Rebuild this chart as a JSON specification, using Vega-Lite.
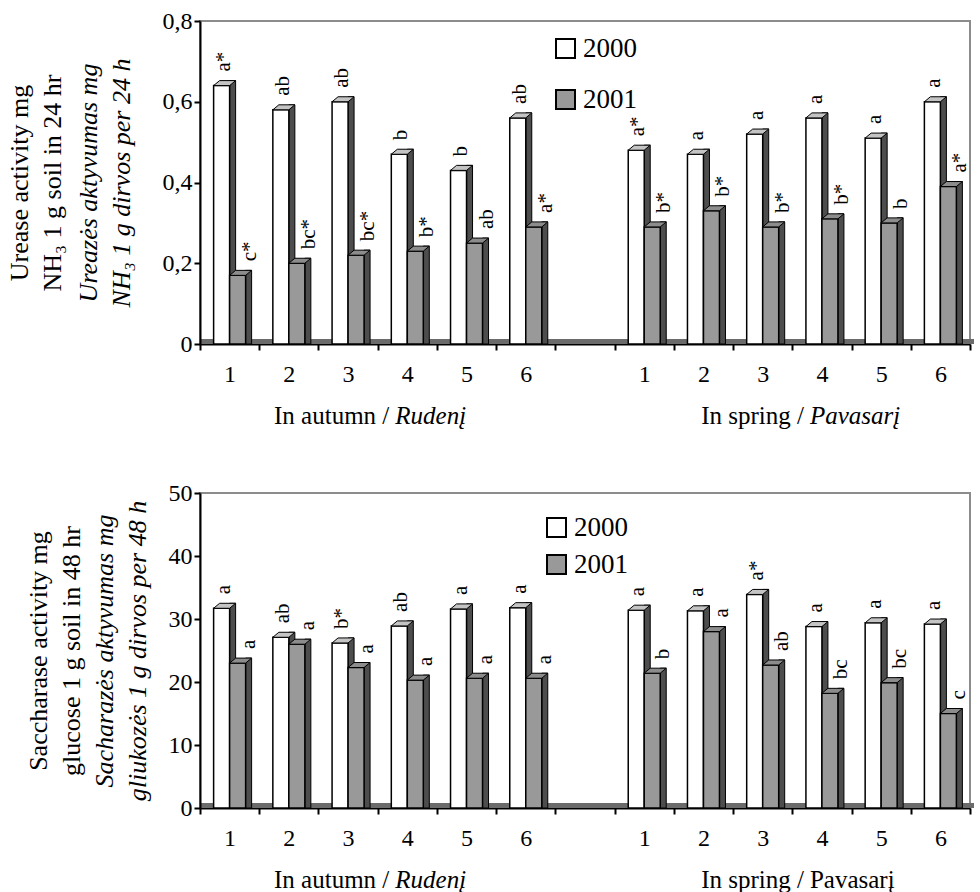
{
  "$schema": "https://vega.github.io/schema/vega-lite/v6.json",
  "padding": {"left": 5, "top": 8, "right": 2, "bottom": 5},
  "spacing": 50,
  "config": {
    "font": "Liberation Serif",
    "view": {"stroke": "#8c8c8c", "strokeWidth": 2},
    "axis": {"labelFont": "Liberation Serif", "titleFont": "Liberation Serif", "labelColor": "black", "titleColor": "black", "grid": false, "labelFontSize": 24},
    "axisX": {"title": null, "labelExpr": "isValid(datum.value) && datum.value != 'G' ? substring(datum.value, 1) : ''", "tickBand": "extent", "tickSize": 6, "tickWidth": 2, "tickColor": "black", "domainColor": "black", "domainWidth": 2, "labelFontSize": 24, "labelPadding": 12, "labelAngle": 0},
    "legend": {"labelFont": "Liberation Serif"},
    "text": {"font": "Liberation Serif"}
  },
  "resolve": {"scale": {"color": "independent"}, "legend": {"color": "independent"}},
  "datasets": {
    "urease": [
      {"slot": "A1", "year": "2000", "value": 0.64, "sig": "a*"},
      {"slot": "A1", "year": "2001", "value": 0.17, "sig": "c*"},
      {"slot": "A2", "year": "2000", "value": 0.58, "sig": "ab"},
      {"slot": "A2", "year": "2001", "value": 0.20, "sig": "bc*"},
      {"slot": "A3", "year": "2000", "value": 0.60, "sig": "ab"},
      {"slot": "A3", "year": "2001", "value": 0.22, "sig": "bc*"},
      {"slot": "A4", "year": "2000", "value": 0.47, "sig": "b"},
      {"slot": "A4", "year": "2001", "value": 0.23, "sig": "b*"},
      {"slot": "A5", "year": "2000", "value": 0.43, "sig": "b"},
      {"slot": "A5", "year": "2001", "value": 0.25, "sig": "ab"},
      {"slot": "A6", "year": "2000", "value": 0.56, "sig": "ab"},
      {"slot": "A6", "year": "2001", "value": 0.29, "sig": "a*"},
      {"slot": "S1", "year": "2000", "value": 0.48, "sig": "a*"},
      {"slot": "S1", "year": "2001", "value": 0.29, "sig": "b*"},
      {"slot": "S2", "year": "2000", "value": 0.47, "sig": "a"},
      {"slot": "S2", "year": "2001", "value": 0.33, "sig": "b*"},
      {"slot": "S3", "year": "2000", "value": 0.52, "sig": "a"},
      {"slot": "S3", "year": "2001", "value": 0.29, "sig": "b*"},
      {"slot": "S4", "year": "2000", "value": 0.56, "sig": "a"},
      {"slot": "S4", "year": "2001", "value": 0.31, "sig": "b*"},
      {"slot": "S5", "year": "2000", "value": 0.51, "sig": "a"},
      {"slot": "S5", "year": "2001", "value": 0.30, "sig": "b"},
      {"slot": "S6", "year": "2000", "value": 0.60, "sig": "a"},
      {"slot": "S6", "year": "2001", "value": 0.39, "sig": "a*"}
    ],
    "sacch": [
      {"slot": "A1", "year": "2000", "value": 31.7, "sig": "a"},
      {"slot": "A1", "year": "2001", "value": 23.0, "sig": "a"},
      {"slot": "A2", "year": "2000", "value": 27.1, "sig": "ab"},
      {"slot": "A2", "year": "2001", "value": 26.0, "sig": "a"},
      {"slot": "A3", "year": "2000", "value": 26.2, "sig": "b*"},
      {"slot": "A3", "year": "2001", "value": 22.3, "sig": "a"},
      {"slot": "A4", "year": "2000", "value": 28.9, "sig": "ab"},
      {"slot": "A4", "year": "2001", "value": 20.3, "sig": "a"},
      {"slot": "A5", "year": "2000", "value": 31.6, "sig": "a"},
      {"slot": "A5", "year": "2001", "value": 20.6, "sig": "a"},
      {"slot": "A6", "year": "2000", "value": 31.8, "sig": "a"},
      {"slot": "A6", "year": "2001", "value": 20.6, "sig": "a"},
      {"slot": "S1", "year": "2000", "value": 31.4, "sig": "a"},
      {"slot": "S1", "year": "2001", "value": 21.4, "sig": "b"},
      {"slot": "S2", "year": "2000", "value": 31.3, "sig": "a"},
      {"slot": "S2", "year": "2001", "value": 28.0, "sig": "a"},
      {"slot": "S3", "year": "2000", "value": 33.9, "sig": "a*"},
      {"slot": "S3", "year": "2001", "value": 22.7, "sig": "ab"},
      {"slot": "S4", "year": "2000", "value": 28.8, "sig": "a"},
      {"slot": "S4", "year": "2001", "value": 18.2, "sig": "bc"},
      {"slot": "S5", "year": "2000", "value": 29.4, "sig": "a"},
      {"slot": "S5", "year": "2001", "value": 19.9, "sig": "bc"},
      {"slot": "S6", "year": "2000", "value": 29.2, "sig": "a"},
      {"slot": "S6", "year": "2001", "value": 15.0, "sig": "c"}
    ],
    "groups": [
      {"slot": "A4", "group": "autumn", "part1": "In autumn /", "part2": "Rudenį"},
      {"slot": "S4", "group": "spring", "part1": "In spring /", "part2": "Pavasarį"}
    ]
  },
  "vconcat": [
    {
      "width": 770,
      "height": 323,
      "data": {"name": "urease"},
      "resolve": {"scale": {"y": "shared"}, "axis": {"y": "independent"}},
      "layer": [
        {
          "data": {"values": [{}]},
          "mark": {"type": "rule", "color": "#6b6b6b", "strokeWidth": 5, "yOffset": -2.5, "xOffset": 4},
          "encoding": {"y": {"datum": 0, "type": "quantitative", "scale": {"domain": [0, 0.8], "nice": false}, "axis": null}}
        },
        {
          "transform": [{"filter": "datum.year == '2000'"}],
          "mark": {"type": "bar", "width": 6, "xOffset": 3, "yOffset": -5, "y2Offset": -5, "fill": "#4d4d4d", "stroke": "black", "strokeWidth": 1},
          "encoding": {
            "x": {"field": "slot", "type": "nominal", "scale": {"type": "band", "domain": ["A1","A2","A3","A4","A5","A6","G","S1","S2","S3","S4","S5","S6"], "paddingInner": 0, "paddingOuter": 0}},
            "y": {"field": "value", "type": "quantitative", "stack": null, "scale": {"domain": [0, 0.8], "nice": false}, "axis": null}
          }
        },
        {
          "transform": [{"filter": "datum.year == '2000'"}],
          "mark": {"type": "bar", "width": 16, "xOffset": -8, "stroke": "black", "strokeWidth": 1.5, "opacity": 1},
          "encoding": {
            "x": {"field": "slot", "type": "nominal", "scale": {"type": "band", "domain": ["A1","A2","A3","A4","A5","A6","G","S1","S2","S3","S4","S5","S6"], "paddingInner": 0, "paddingOuter": 0}},
            "y": {"field": "value", "type": "quantitative", "stack": null, "scale": {"domain": [0, 0.8], "nice": false},
              "axis": {"orient": "left", "values": [0, 0.2, 0.4, 0.6, 0.8], "labelExpr": "datum.value == 0 ? '0' : replace(format(datum.value, '.1f'), '.', ',')", "title": ["Ureazės aktyvumas mg", "NH₃ 1 g dirvos per 24 h"], "titleFontStyle": "italic", "titleFontWeight": "normal", "titleFontSize": 26, "titleLineHeight": 33, "titlePadding": 28, "tickSize": 6, "tickWidth": 2, "tickColor": "black", "domainColor": "black", "domainWidth": 2, "labelFontSize": 24, "labelPadding": 2, "zindex": 1}},
            "color": {"field": "year", "type": "nominal", "scale": {"domain": ["2000", "2001"], "range": ["#ffffff", "#999999"]},
              "legend": {"orient": "none", "legendX": 352, "legendY": 14, "title": null, "symbolType": "square", "symbolSize": 361, "symbolStrokeColor": "black", "symbolStrokeWidth": 2, "symbolOpacity": 1, "labelFontSize": 27, "labelColor": "black", "labelOffset": 4, "rowPadding": 23, "padding": 0}}
          }
        },
        {
          "transform": [{"filter": "datum.year == '2000'"}],
          "mark": {"type": "point", "shape": "M -8 0 L 8 0 L 14 -5 L -2 -5 Z", "size": 4, "filled": true, "fill": "#c4c4c4", "stroke": "black", "strokeWidth": 1, "opacity": 1, "xOffset": -8},
          "encoding": {
            "x": {"field": "slot", "type": "nominal", "scale": {"type": "band", "domain": ["A1","A2","A3","A4","A5","A6","G","S1","S2","S3","S4","S5","S6"], "paddingInner": 0, "paddingOuter": 0}},
            "y": {"field": "value", "type": "quantitative", "scale": {"domain": [0, 0.8], "nice": false}, "axis": null}
          }
        },
        {
          "transform": [{"filter": "datum.year == '2001'"}],
          "mark": {"type": "bar", "width": 6, "xOffset": 19, "yOffset": -5, "y2Offset": -5, "fill": "#4d4d4d", "stroke": "black", "strokeWidth": 1},
          "encoding": {
            "x": {"field": "slot", "type": "nominal", "scale": {"type": "band", "domain": ["A1","A2","A3","A4","A5","A6","G","S1","S2","S3","S4","S5","S6"], "paddingInner": 0, "paddingOuter": 0}},
            "y": {"field": "value", "type": "quantitative", "stack": null, "scale": {"domain": [0, 0.8], "nice": false}, "axis": null}
          }
        },
        {
          "transform": [{"filter": "datum.year == '2001'"}],
          "mark": {"type": "bar", "width": 16, "xOffset": 8, "stroke": "black", "strokeWidth": 1.5, "opacity": 1},
          "encoding": {
            "x": {"field": "slot", "type": "nominal", "scale": {"type": "band", "domain": ["A1","A2","A3","A4","A5","A6","G","S1","S2","S3","S4","S5","S6"], "paddingInner": 0, "paddingOuter": 0}},
            "y": {"field": "value", "type": "quantitative", "stack": null, "scale": {"domain": [0, 0.8], "nice": false},
              "axis": {"orient": "left", "labels": false, "ticks": false, "domain": false, "title": ["Urease activity mg", "NH₃ 1 g soil in 24 hr"], "titleFontWeight": "normal", "titleFontSize": 26, "titleLineHeight": 33, "titlePadding": 135}},
            "color": {"field": "year", "type": "nominal", "scale": {"domain": ["2000", "2001"], "range": ["#ffffff", "#999999"]}, "legend": null}
          }
        },
        {
          "transform": [{"filter": "datum.year == '2001'"}],
          "mark": {"type": "point", "shape": "M -8 0 L 8 0 L 14 -5 L -2 -5 Z", "size": 4, "filled": true, "fill": "#8c8c8c", "stroke": "black", "strokeWidth": 1, "opacity": 1, "xOffset": 8},
          "encoding": {
            "x": {"field": "slot", "type": "nominal", "scale": {"type": "band", "domain": ["A1","A2","A3","A4","A5","A6","G","S1","S2","S3","S4","S5","S6"], "paddingInner": 0, "paddingOuter": 0}},
            "y": {"field": "value", "type": "quantitative", "scale": {"domain": [0, 0.8], "nice": false}, "axis": null}
          }
        },
        {
          "transform": [{"filter": "datum.year == '2000'"}],
          "mark": {"type": "text", "angle": 270, "align": "left", "baseline": "middle", "fontSize": 21, "xOffset": -6, "yOffset": -14, "color": "black"},
          "encoding": {
            "x": {"field": "slot", "type": "nominal", "scale": {"type": "band", "domain": ["A1","A2","A3","A4","A5","A6","G","S1","S2","S3","S4","S5","S6"], "paddingInner": 0, "paddingOuter": 0}},
            "y": {"field": "value", "type": "quantitative", "scale": {"domain": [0, 0.8], "nice": false}, "axis": null},
            "text": {"field": "sig"}
          }
        },
        {
          "transform": [{"filter": "datum.year == '2001'"}],
          "mark": {"type": "text", "angle": 270, "align": "left", "baseline": "middle", "fontSize": 21, "xOffset": 20, "yOffset": -14, "color": "black"},
          "encoding": {
            "x": {"field": "slot", "type": "nominal", "scale": {"type": "band", "domain": ["A1","A2","A3","A4","A5","A6","G","S1","S2","S3","S4","S5","S6"], "paddingInner": 0, "paddingOuter": 0}},
            "y": {"field": "value", "type": "quantitative", "scale": {"domain": [0, 0.8], "nice": false}, "axis": null},
            "text": {"field": "sig"}
          }
        },
        {
          "data": {"name": "groups"},
          "mark": {"type": "text", "align": "right", "baseline": "middle", "fontSize": 25, "xOffset": -18, "yOffset": 72, "color": "black"},
          "encoding": {
            "x": {"field": "slot", "type": "nominal", "scale": {"type": "band", "domain": ["A1","A2","A3","A4","A5","A6","G","S1","S2","S3","S4","S5","S6"], "paddingInner": 0, "paddingOuter": 0}},
            "y": {"datum": 0, "type": "quantitative", "scale": {"domain": [0, 0.8], "nice": false}, "axis": null},
            "text": {"field": "part1"}
          }
        },
        {
          "data": {"name": "groups"},
          "mark": {"type": "text", "align": "left", "baseline": "middle", "fontSize": 25, "fontStyle": "italic", "xOffset": -12, "yOffset": 72, "color": "black"},
          "encoding": {
            "x": {"field": "slot", "type": "nominal", "scale": {"type": "band", "domain": ["A1","A2","A3","A4","A5","A6","G","S1","S2","S3","S4","S5","S6"], "paddingInner": 0, "paddingOuter": 0}},
            "y": {"datum": 0, "type": "quantitative", "scale": {"domain": [0, 0.8], "nice": false}, "axis": null},
            "text": {"field": "part2"}
          }
        }
      ]
    },
    {
      "width": 770,
      "height": 315,
      "data": {"name": "sacch"},
      "resolve": {"scale": {"y": "shared"}, "axis": {"y": "independent"}},
      "layer": [
        {
          "data": {"values": [{}]},
          "mark": {"type": "rule", "color": "#6b6b6b", "strokeWidth": 5, "yOffset": -2.5, "xOffset": 4},
          "encoding": {"y": {"datum": 0, "type": "quantitative", "scale": {"domain": [0, 50], "nice": false}, "axis": null}}
        },
        {
          "transform": [{"filter": "datum.year == '2000'"}],
          "mark": {"type": "bar", "width": 6, "xOffset": 3, "yOffset": -5, "y2Offset": -5, "fill": "#4d4d4d", "stroke": "black", "strokeWidth": 1},
          "encoding": {
            "x": {"field": "slot", "type": "nominal", "scale": {"type": "band", "domain": ["A1","A2","A3","A4","A5","A6","G","S1","S2","S3","S4","S5","S6"], "paddingInner": 0, "paddingOuter": 0}},
            "y": {"field": "value", "type": "quantitative", "stack": null, "scale": {"domain": [0, 50], "nice": false}, "axis": null}
          }
        },
        {
          "transform": [{"filter": "datum.year == '2000'"}],
          "mark": {"type": "bar", "width": 16, "xOffset": -8, "stroke": "black", "strokeWidth": 1.5, "opacity": 1},
          "encoding": {
            "x": {"field": "slot", "type": "nominal", "scale": {"type": "band", "domain": ["A1","A2","A3","A4","A5","A6","G","S1","S2","S3","S4","S5","S6"], "paddingInner": 0, "paddingOuter": 0}},
            "y": {"field": "value", "type": "quantitative", "stack": null, "scale": {"domain": [0, 50], "nice": false},
              "axis": {"orient": "left", "values": [0, 10, 20, 30, 40, 50], "title": ["Sacharazės aktyvumas mg", "gliukozės 1 g dirvos per 48 h"], "titleFontStyle": "italic", "titleFontWeight": "normal", "titleFontSize": 26, "titleLineHeight": 33, "titlePadding": 18, "tickSize": 6, "tickWidth": 2, "tickColor": "black", "domainColor": "black", "domainWidth": 2, "labelFontSize": 24, "labelPadding": 2, "zindex": 1}},
            "color": {"field": "year", "type": "nominal", "scale": {"domain": ["2000", "2001"], "range": ["#ffffff", "#999999"]},
              "legend": {"orient": "none", "legendX": 343, "legendY": 21, "title": null, "symbolType": "square", "symbolSize": 361, "symbolStrokeColor": "black", "symbolStrokeWidth": 2, "symbolOpacity": 1, "labelFontSize": 27, "labelColor": "black", "labelOffset": 4, "rowPadding": 9, "padding": 0}}
          }
        },
        {
          "transform": [{"filter": "datum.year == '2000'"}],
          "mark": {"type": "point", "shape": "M -8 0 L 8 0 L 14 -5 L -2 -5 Z", "size": 4, "filled": true, "fill": "#c4c4c4", "stroke": "black", "strokeWidth": 1, "opacity": 1, "xOffset": -8},
          "encoding": {
            "x": {"field": "slot", "type": "nominal", "scale": {"type": "band", "domain": ["A1","A2","A3","A4","A5","A6","G","S1","S2","S3","S4","S5","S6"], "paddingInner": 0, "paddingOuter": 0}},
            "y": {"field": "value", "type": "quantitative", "scale": {"domain": [0, 50], "nice": false}, "axis": null}
          }
        },
        {
          "transform": [{"filter": "datum.year == '2001'"}],
          "mark": {"type": "bar", "width": 6, "xOffset": 19, "yOffset": -5, "y2Offset": -5, "fill": "#4d4d4d", "stroke": "black", "strokeWidth": 1},
          "encoding": {
            "x": {"field": "slot", "type": "nominal", "scale": {"type": "band", "domain": ["A1","A2","A3","A4","A5","A6","G","S1","S2","S3","S4","S5","S6"], "paddingInner": 0, "paddingOuter": 0}},
            "y": {"field": "value", "type": "quantitative", "stack": null, "scale": {"domain": [0, 50], "nice": false}, "axis": null}
          }
        },
        {
          "transform": [{"filter": "datum.year == '2001'"}],
          "mark": {"type": "bar", "width": 16, "xOffset": 8, "stroke": "black", "strokeWidth": 1.5, "opacity": 1},
          "encoding": {
            "x": {"field": "slot", "type": "nominal", "scale": {"type": "band", "domain": ["A1","A2","A3","A4","A5","A6","G","S1","S2","S3","S4","S5","S6"], "paddingInner": 0, "paddingOuter": 0}},
            "y": {"field": "value", "type": "quantitative", "stack": null, "scale": {"domain": [0, 50], "nice": false},
              "axis": {"orient": "left", "labels": false, "ticks": false, "domain": false, "title": ["Saccharase activity mg", "glucose 1 g soil in 48 hr"], "titleFontWeight": "normal", "titleFontSize": 26, "titleLineHeight": 33, "titlePadding": 116}},
            "color": {"field": "year", "type": "nominal", "scale": {"domain": ["2000", "2001"], "range": ["#ffffff", "#999999"]}, "legend": null}
          }
        },
        {
          "transform": [{"filter": "datum.year == '2001'"}],
          "mark": {"type": "point", "shape": "M -8 0 L 8 0 L 14 -5 L -2 -5 Z", "size": 4, "filled": true, "fill": "#8c8c8c", "stroke": "black", "strokeWidth": 1, "opacity": 1, "xOffset": 8},
          "encoding": {
            "x": {"field": "slot", "type": "nominal", "scale": {"type": "band", "domain": ["A1","A2","A3","A4","A5","A6","G","S1","S2","S3","S4","S5","S6"], "paddingInner": 0, "paddingOuter": 0}},
            "y": {"field": "value", "type": "quantitative", "scale": {"domain": [0, 50], "nice": false}, "axis": null}
          }
        },
        {
          "transform": [{"filter": "datum.year == '2000'"}],
          "mark": {"type": "text", "angle": 270, "align": "left", "baseline": "middle", "fontSize": 21, "xOffset": -6, "yOffset": -14, "color": "black"},
          "encoding": {
            "x": {"field": "slot", "type": "nominal", "scale": {"type": "band", "domain": ["A1","A2","A3","A4","A5","A6","G","S1","S2","S3","S4","S5","S6"], "paddingInner": 0, "paddingOuter": 0}},
            "y": {"field": "value", "type": "quantitative", "scale": {"domain": [0, 50], "nice": false}, "axis": null},
            "text": {"field": "sig"}
          }
        },
        {
          "transform": [{"filter": "datum.year == '2001'"}],
          "mark": {"type": "text", "angle": 270, "align": "left", "baseline": "middle", "fontSize": 21, "xOffset": 19, "yOffset": -14, "color": "black"},
          "encoding": {
            "x": {"field": "slot", "type": "nominal", "scale": {"type": "band", "domain": ["A1","A2","A3","A4","A5","A6","G","S1","S2","S3","S4","S5","S6"], "paddingInner": 0, "paddingOuter": 0}},
            "y": {"field": "value", "type": "quantitative", "scale": {"domain": [0, 50], "nice": false}, "axis": null},
            "text": {"field": "sig"}
          }
        },
        {
          "data": {"name": "groups"},
          "mark": {"type": "text", "align": "right", "baseline": "middle", "fontSize": 25, "xOffset": -18, "yOffset": 72, "color": "black"},
          "encoding": {
            "x": {"field": "slot", "type": "nominal", "scale": {"type": "band", "domain": ["A1","A2","A3","A4","A5","A6","G","S1","S2","S3","S4","S5","S6"], "paddingInner": 0, "paddingOuter": 0}},
            "y": {"datum": 0, "type": "quantitative", "scale": {"domain": [0, 50], "nice": false}, "axis": null},
            "text": {"field": "part1"}
          }
        },
        {
          "data": {"name": "groups"},
          "transform": [{"filter": "datum.group == 'autumn'"}],
          "mark": {"type": "text", "align": "left", "baseline": "middle", "fontSize": 25, "fontStyle": "italic", "xOffset": -12, "yOffset": 72, "color": "black"},
          "encoding": {
            "x": {"field": "slot", "type": "nominal", "scale": {"type": "band", "domain": ["A1","A2","A3","A4","A5","A6","G","S1","S2","S3","S4","S5","S6"], "paddingInner": 0, "paddingOuter": 0}},
            "y": {"datum": 0, "type": "quantitative", "scale": {"domain": [0, 50], "nice": false}, "axis": null},
            "text": {"field": "part2"}
          }
        },
        {
          "data": {"name": "groups"},
          "transform": [{"filter": "datum.group == 'spring'"}],
          "mark": {"type": "text", "align": "left", "baseline": "middle", "fontSize": 25, "xOffset": -12, "yOffset": 72, "color": "black"},
          "encoding": {
            "x": {"field": "slot", "type": "nominal", "scale": {"type": "band", "domain": ["A1","A2","A3","A4","A5","A6","G","S1","S2","S3","S4","S5","S6"], "paddingInner": 0, "paddingOuter": 0}},
            "y": {"datum": 0, "type": "quantitative", "scale": {"domain": [0, 50], "nice": false}, "axis": null},
            "text": {"field": "part2"}
          }
        }
      ]
    }
  ]
}
